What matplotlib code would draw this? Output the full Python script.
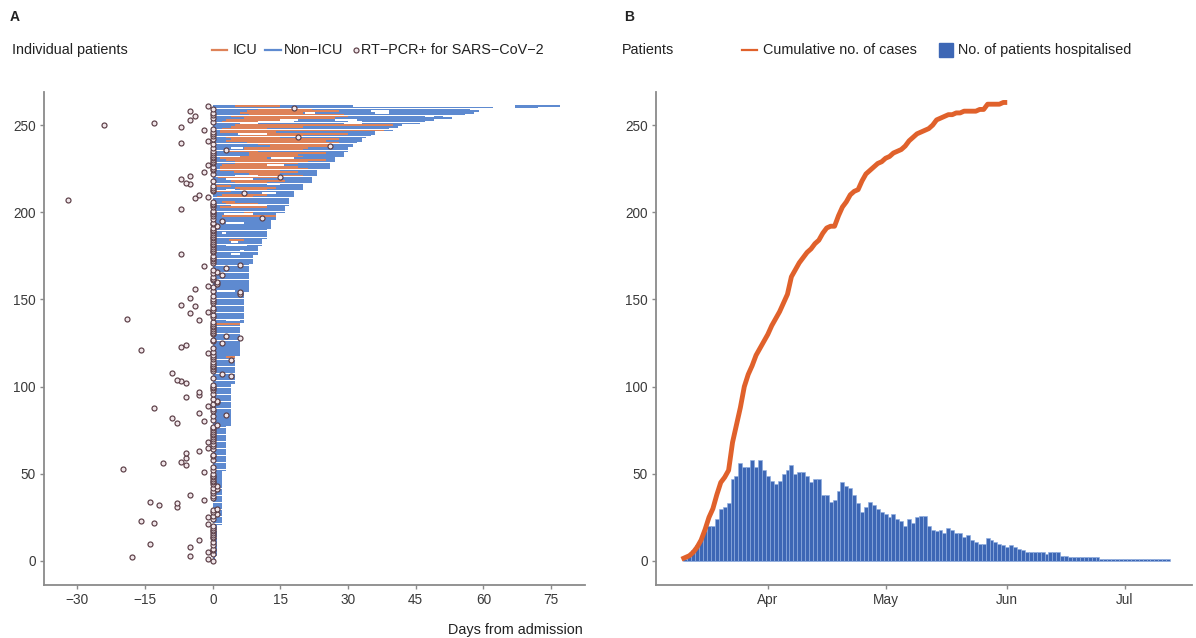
import matplotlib
matplotlib.use('Agg')
import matplotlib.pyplot as plt
import matplotlib.dates as mdates
from matplotlib.lines import Line2D
import numpy as np
import pandas as pd

plt.rcParams['font.family'] = ['Liberation Sans', 'DejaVu Sans']

# ---------------- Panel A data (one entry per patient, index = patient row) ----------------
stay_days = [
    0.4, 0.4, 0.4, 1, 1, 1, 1, 1, 1, 1, 1, 1, 1, 1, 1, 1, 1, 1, 1, 1,
    1, 2, 2, 2, 2, 2, 2, 2, 2, 2, 2, 2, 2, 2, 2, 2, 2, 2, 2, 2,
    2, 2, 2, 2, 2, 2, 2, 2, 2, 2, 2, 2, 3, 3, 3, 3, 3, 3, 3, 3,
    3, 3, 3, 3, 3, 3, 3, 3, 3, 3, 3, 3, 3, 3, 3, 3, 3, 3, 4, 4,
    4, 4, 4, 4, 4, 4, 4, 4, 4, 4, 4, 4, 4, 4, 4, 4, 4, 4, 4, 4,
    4, 4, 5, 5, 5, 5, 5, 5, 5, 5, 5, 5, 5, 5, 5, 5, 5, 5, 6, 6,
    6, 6, 6, 6, 6, 6, 6, 6, 6, 6, 6, 6, 6, 6, 6, 6, 6, 7, 7, 7,
    7, 7, 7, 7, 7, 7, 7, 7, 7, 7, 7, 7, 7, 7, 7, 8, 8, 8, 8, 8,
    8, 8, 8, 8, 8, 8, 8, 8, 8, 8, 8, 9, 9, 9, 9, 9, 10, 10, 10, 10,
    10, 11, 11, 11, 11, 12, 12, 12, 12, 12, 12, 13, 13, 13, 13, 13, 14, 14, 14, 14,
    16, 16, 16, 16, 17, 17, 17, 17, 17, 18, 18, 18, 18, 20, 20, 20, 20, 22, 22, 22,
    22, 23, 23, 23, 23, 26, 26, 26, 26, 27, 27, 27, 29, 29, 29, 30, 30, 30, 31, 31,
    32, 33, 33, 34, 35, 36, 36, 40, 39, 41, 42, 46, 47, 49, 53, 51, 56, 58, 59, 57,
    62, 31,
]

pcr_day = [
    0, -1, -18, -5, 0, -1, 0, 0, -5, 0, -14, 0, -3, 0, 0, 0, 0, 0, 0, 0,
    0, -1, -13, -16, 0, -1, 0, 1, 0, 0, 1, -8, -12, -8, -14, -2, 0, 0, -5, 0,
    0, 1, 0, 1, 0, 0, 0, 0, 0, 0, 0, -2, 0, -20, 0, -6, -11, -7, 0, -6,
    0, 0, -6, -3, 0, -1, 0, 0, -1, 0, 0, 0, 0, 0, 0, 0, 0, 0, 1, -8,
    -2, 0, -9, 0, 3, -3, 0, 0, -13, -1, 0, 1, 1, 0, -6, -3, 0, -3, 0, 0,
    0, 0, -6, -7, -8, 0, 4, 2, -9, 0, 0, 0, 0, 0, 0, 4, 0, 0, 0, -1,
    0, -16, 0, -7, -6, 2, 0, 0, 6, 3, 0, 0, 0, 0, 0, 0, 0, 0, -3, -19,
    0, 0, -5, -1, 0, 0, -4, -7, 0, 0, 0, -5, 0, 6, 6, 0, -4, 0, -1, 1,
    1, 0, 0, 0, 2, 0, 1, 0, 3, -2, 6, 0, 0, 0, 0, 0, -7, 0, 0, 0,
    0, 0, 0, 0, 0, 0, 0, 0, 0, 0, 0, 0, 1, 0, 0, 2, 0, 11, 0, 0,
    0, 0, -7, 0, 0, 0, 0, -32, -4, -1, -3, 7, 0, 0, 0, 0, -5, -6, 0, -7,
    15, -5, 0, -2, 0, 0, 0, -1, 0, 0, 0, 0, 0, 0, 0, 0, 3, 0, 26, 0,
    -7, -1, 0, 19, 0, 0, 0, -2, 0, -7, -24, -13, 0, -5, 0, -4, 0, 0, -5, 0,
    18, -1,
]

icu_patient = [117, 136, 184, 198, 200, 203, 205, 206, 209, 210, 212, 213, 214, 215,
               217, 218, 220, 221, 222, 223, 224, 225, 226, 227, 228, 229, 230, 231,
               232, 233, 234, 235, 236, 237, 238, 239, 240, 241, 242, 243, 244, 245,
               246, 247, 248, 249, 250, 252, 253, 254, 255, 256, 257, 258, 259, 261]
icu_start = [3, 0.7, 3.5, 2, 7, 1.5, 3, 2, 1, 2, 0, 6, 5, 0,
             5, 4, 1.2, 10, 8, 4.6, 1.6, 1.6, 1.6, 2, 5, 5, 3, 1.6,
             6, 8, 8, 3, 7, 7, 12.7, 10, 7.5, 3, 4, 3, 6, 12,
             1.6, 1.6, 2, 4, 5, 2, 3, 7, 4, 8, 6, 7.5, 10, 5]
icu_end = [5, 6, 7, 14, 9, 12, 10, 5, 9, 12, 4, 12, 14, 4,
           12, 16, 15, 20, 15, 19, 15, 21, 19, 12, 19, 21, 25, 12,
           20, 19, 25, 10, 20, 21, 26, 26, 28, 25, 28, 15, 20, 30,
           14, 38, 12, 20, 40, 10, 15, 27, 30, 29, 20, 28, 22, 15]

gap_patient = [138, 155, 176, 178, 181, 183, 188, 194, 199, 204, 211, 213, 216, 219,
               221, 227, 231, 232, 237, 245, 251, 251, 252, 252, 253, 253, 255, 257,
               257, 258, 260]
gap_start = [3, 1, 4, 6, 3, 4, 2, 3, 2.5, 4, 11, 3, 12, 3,
             5, 12, 13, 0.5, 4, 5.5, 6, 29, 10, 30, 15, 27, 47, 20.5,
             36, 35, 62]
gap_end = [6, 5, 6, 7, 7.5, 5.5, 3, 7, 9, 12, 14, 5, 15, 9,
           10, 15.7, 18, 6, 6.8, 12, 10, 33, 18, 33, 19, 32, 49, 22.7,
           39, 39, 67]

extra_patient = [260, 261]
extra_start = [67, 67]
extra_end = [72, 77]

# ---------------- Panel B data ----------------
cases_first_day = '2020-03-10'
cumulative_cases = [
    1, 2, 3, 5, 8, 12, 18, 25, 30, 38, 45, 48, 52, 68, 78, 88, 100, 107, 112, 118, 122, 126,
    130, 135, 139, 143, 148, 153, 163, 167, 171, 174, 177, 179, 182, 184, 188, 191, 192, 192,
    198, 203, 206, 210, 212, 213, 218, 222, 224, 226, 228, 229,
    231, 232, 234, 235, 236, 238, 241, 243, 245, 246, 247, 248, 250, 253, 254, 255, 256, 256,
    257, 257, 258, 258, 258, 258, 259, 259, 262, 262, 262, 262, 263,
    263,
]
hosp_first_day = '2020-03-11'
hospitalised = [
    1, 3, 6, 9, 12, 17, 20, 20, 24, 30, 31, 33, 47, 49, 56, 54, 54, 58, 54, 58,
    52, 49, 46, 44, 46, 50, 52, 55, 50, 51, 51, 49, 45, 47, 47, 38, 38, 34, 35, 40,
    45, 43, 42, 38, 33, 28, 31, 34, 32, 30, 28, 27, 25, 27, 24, 23, 20, 24, 22, 25,
    26, 26, 20, 18, 17, 18, 16, 19, 18, 16, 16, 14, 15, 12, 11, 10, 10, 13, 12, 11,
    10, 9, 8, 9, 8, 7, 6, 5, 5, 5, 5, 5, 4, 5, 5, 5, 3, 3, 2, 2,
    2, 2, 2, 2, 2, 2, 1, 1, 1, 1, 1, 1, 1, 1, 1, 1, 1, 1, 1, 1, 1, 1, 1, 1,
]

# ---------------- styling ----------------
W, H = 1196, 638
BLUE = '#5E8AD0'
ORANGE = '#DE8258'
LINE_OR = '#E0612B'
BAR_B = '#3D67B5'
BAR_EDGE = '#8FAEE0'
SPINE = '#8a8a8a'
TXT = '#222222'
TICK_TXT = '#3a3a3a'
FS = 10.4

fig = plt.figure(figsize=(W / 100, H / 100), dpi=100)


def fx(px):
    return px / W


def fy(py):
    return 1 - py / H


def style_axes(ax):
    for s in ['top', 'right']:
        ax.spines[s].set_visible(False)
    for s in ['left', 'bottom']:
        ax.spines[s].set_color(SPINE)
        ax.spines[s].set_linewidth(1.3)
    ax.tick_params(axis='both', colors=SPINE, length=3, width=1, labelsize=9.8,
                   labelcolor=TICK_TXT, pad=3)


# ---------------- Panel A ----------------
axA = fig.add_axes([fx(44), fy(585), fx(585) - fx(44), fy(92) - fy(585)])

blue_y, blue_left, blue_w = [], [], []
for p, end in enumerate(stay_days):
    segs = [(0.0, float(end))]
    for gp, gs, ge in zip(gap_patient, gap_start, gap_end):
        if gp != p:
            continue
        new = []
        for s, e in segs:
            if ge <= s or gs >= e:
                new.append((s, e))
            else:
                if gs > s:
                    new.append((s, gs))
                if ge < e:
                    new.append((ge, e))
        segs = new
    for s, e in segs:
        blue_y.append(p)
        blue_left.append(s)
        blue_w.append(e - s)
for p, s, e in zip(extra_patient, extra_start, extra_end):
    blue_y.append(p)
    blue_left.append(s)
    blue_w.append(e - s)

axA.barh(blue_y, blue_w, left=blue_left, height=0.88, color=BLUE, linewidth=0, zorder=2)
axA.barh(icu_patient, np.subtract(icu_end, icu_start), left=icu_start, height=0.88,
         color=ORANGE, linewidth=0, zorder=2.5)
axA.plot(pcr_day, np.arange(len(pcr_day)), linestyle='none', marker='o', ms=3.6,
         mfc='#f1e6ea', mec='#5a3d45', mew=0.85, zorder=3)

axA.set_xlim(-37.4, 82.5)
axA.set_ylim(-13.8, 269)
axA.set_xticks([-30, -15, 0, 15, 30, 45, 60, 75])
axA.set_yticks([0, 50, 100, 150, 200, 250])
style_axes(axA)

# ---------------- Panel B ----------------
axB = fig.add_axes([fx(656), fy(585), fx(1192) - fx(656), fy(92) - fy(585)])
hosp_dates = pd.date_range(hosp_first_day, periods=len(hospitalised), freq='D')
case_dates = pd.date_range(cases_first_day, periods=len(cumulative_cases), freq='D')
axB.bar(hosp_dates, hospitalised, width=1.0, color=BAR_B, edgecolor=BAR_EDGE,
        linewidth=0.45, zorder=2)
axB.plot(case_dates, cumulative_cases, color=LINE_OR, lw=3.5, solid_joinstyle='round',
         solid_capstyle='butt', zorder=3)
axB.set_xlim(pd.Timestamp('2020-03-03 12:00'), pd.Timestamp('2020-07-18 02:00'))
axB.set_ylim(-13.8, 269)
axB.set_yticks([0, 50, 100, 150, 200, 250])
axB.xaxis.set_major_locator(mdates.MonthLocator())
axB.xaxis.set_major_formatter(mdates.DateFormatter('%b'))
style_axes(axB)

# ---------------- Titles / legends ----------------
fig.text(fx(10), fy(17), 'A', fontsize=10, fontweight='bold', color=TXT, va='center', ha='left')
fig.text(fx(624), fy(17), 'B', fontsize=10, fontweight='bold', color=TXT, va='center', ha='left')

ly = fy(50)
fig.text(fx(12), ly, 'Individual patients', fontsize=FS, color=TXT, va='center', ha='left')
fig.add_artist(Line2D([fx(212), fx(227)], [ly, ly], color=ORANGE, lw=1.6, transform=fig.transFigure))
fig.text(fx(233), ly, 'ICU', fontsize=FS, color=TXT, va='center', ha='left')
fig.add_artist(Line2D([fx(265), fx(281)], [ly, ly], color=BLUE, lw=1.6, transform=fig.transFigure))
fig.text(fx(284), ly, 'Non\u2212ICU', fontsize=FS, color=TXT, va='center', ha='left')
fig.add_artist(Line2D([fx(356)], [ly], linestyle='none', marker='o', ms=3.6, mfc='#f1e6ea',
                      mec='#5a3d45', mew=0.85, transform=fig.transFigure))
fig.text(fx(361), ly, 'RT\u2212PCR+ for SARS\u2212CoV\u22122', fontsize=FS, color=TXT, va='center', ha='left')

fig.text(fx(622), ly, 'Patients', fontsize=FS, color=TXT, va='center', ha='left')
fig.add_artist(Line2D([fx(742), fx(757)], [ly, ly], color=LINE_OR, lw=1.6, transform=fig.transFigure))
fig.text(fx(763), ly, 'Cumulative no. of cases', fontsize=FS, color=TXT, va='center', ha='left')
fig.add_artist(Line2D([fx(946)], [ly], linestyle='none', marker='s', ms=9.5, mfc=BAR_B,
                      mec=BAR_B, transform=fig.transFigure))
fig.text(fx(958), ly, 'No. of patients hospitalised', fontsize=FS, color=TXT, va='center', ha='left')

fig.text(fx(583), fy(630), 'Days from admission', fontsize=FS, color=TXT, va='center', ha='right')

fig.savefig('out.png', dpi=100)
